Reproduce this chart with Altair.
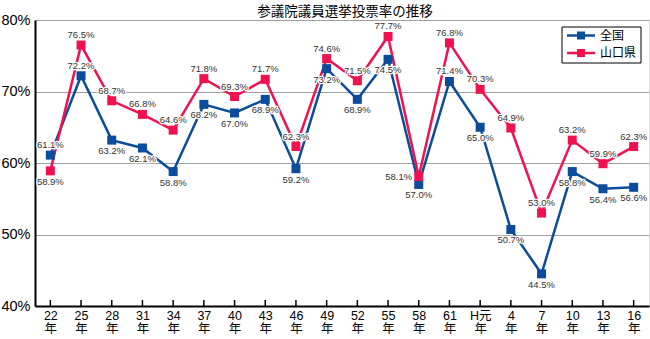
import altair as alt
import pandas as pd

years = ["22", "25", "28", "31", "34", "37", "40", "43", "46", "49",
         "52", "55", "58", "61", "H元", "4", "7", "10", "13", "16"]
national = [61.1, 72.2, 63.2, 62.1, 58.8, 68.2, 67.0, 68.9, 59.2, 73.2,
            68.9, 74.5, 57.0, 71.4, 65.0, 50.7, 44.5, 58.8, 56.4, 56.6]
yamaguchi = [58.9, 76.5, 68.7, 66.8, 64.6, 71.8, 69.3, 71.7, 62.3, 74.6,
             71.5, 77.7, 58.1, 76.8, 70.3, 64.9, 53.0, 63.2, 59.9, 62.3]
series_names = ["全国", "山口県"]
colors = ["#0b4c9d", "#f0124f"]
# label placement: a = above, b = below, l = left
national_place = ["a", "a", "b", "b", "b", "b", "b", "b", "b", "b",
                  "b", "b", "b", "a", "b", "b", "b", "b", "b", "b"]
yamaguchi_place = ["b", "a", "a", "a", "a", "a", "a", "a", "a", "a",
                   "a", "a", "l", "a", "a", "a", "a", "a", "a", "a"]

rows = []
for s, vals, places in [(series_names[0], national, national_place),
                        (series_names[1], yamaguchi, yamaguchi_place)]:
    for i, (yr, v, p) in enumerate(zip(years, vals, places)):
        rows.append({"year": yr, "idx": i, "series": s, "value": v,
                     "place": p, "label": f"{v:.1f}%"})
df = pd.DataFrame(rows)
ticks_df = pd.DataFrame({"year": years})

JP = "Noto Sans CJK JP"
NUM = "Liberation Sans, Arial, sans-serif"

xscale = alt.Scale(type="point", padding=0.5)
xaxis = alt.Axis(title=None, labelAngle=0, ticks=False,
                 domainColor="black", domainWidth=2,
                 labelExpr="[datum.label, '年']",
                 labelFont="Liberation Sans, Noto Sans CJK JP, sans-serif",
                 labelFontSize=12.5, labelLineHeight=13.8,
                 labelColor="black", labelPadding=3, grid=False)
xenc = alt.X("year:N", sort=years, scale=xscale, axis=xaxis)
yenc = alt.Y("value:Q", scale=alt.Scale(domain=[40, 80], nice=False, zero=False),
             axis=alt.Axis(title=None, values=[40, 50, 60, 70, 80],
                           labelExpr="datum.value + '%'", ticks=False,
                           grid=True, gridColor="#a0a0a0", gridWidth=1,
                           domainColor="black", domainWidth=2,
                           labelFont=NUM, labelFontSize=14.5, labelColor="black",
                           labelPadding=5))
cscale = alt.Scale(domain=series_names, range=colors)

base = alt.Chart(df)

lines = base.mark_line(strokeWidth=2.5).encode(
    x=xenc, y=yenc,
    color=alt.Color("series:N", scale=cscale, legend=None),
    order=alt.Order("idx:Q"),
)

squares = base.mark_square(size=81, strokeWidth=1, opacity=1).encode(
    x=xenc, y=yenc,
    color=alt.Color("series:N", scale=cscale, legend=None),
)

offsets = {"a": (0, -10), "b": (0, 11), "l": (-20, 0)}
text_layers = []
for key, (dx, dy) in offsets.items():
    sub = base.transform_filter(alt.datum.place == key)
    halo = sub.mark_text(font="Liberation Sans", fontSize=9.5, dx=dx, dy=dy,
                         stroke="white", strokeWidth=2.5, strokeJoin="round",
                         fill="white").encode(x=xenc, y=yenc, text="label:N")
    txt = sub.mark_text(font="Liberation Sans", fontSize=9.5, dx=dx, dy=dy,
                        color="#333333").encode(x=xenc, y=yenc, text="label:N")
    text_layers += [halo, txt]

tick_marks = alt.Chart(ticks_df).mark_rule(color="black", strokeWidth=1.5).encode(
    x=xenc, y=alt.value(280), y2=alt.value(286),
)

# legend box (drawn by hand, inside the top-right corner of the plot)
legend_layers = [
    alt.Chart(pd.DataFrame({"series": series_names[:1]})).mark_rect(
        fill="white", stroke="black", strokeWidth=1).encode(
        x=alt.value(527), x2=alt.value(606), y=alt.value(7), y2=alt.value(43))
]
for i, (name, col) in enumerate(zip(series_names, colors)):
    ly = 15.5 + 17.5 * i
    src = alt.Chart(pd.DataFrame({"series": [name]}))
    legend_layers.append(src.mark_rule(color=col, strokeWidth=2.5).encode(
        x=alt.value(532), x2=alt.value(560), y=alt.value(ly)))
    legend_layers.append(src.mark_square(color=col, size=64, opacity=1).encode(
        x=alt.value(546), y=alt.value(ly)))
    legend_layers.append(src.mark_text(font=JP, fontSize=12, color="black",
                                       align="left", baseline="middle").encode(
        x=alt.value(565), y=alt.value(ly), text="series:N"))

chart = alt.layer(lines, squares, *text_layers, tick_marks, *legend_layers).properties(
    width=614, height=286,
    padding={"left": 35, "top": 20, "right": 1, "bottom": 33},
    autosize=alt.AutoSizeParams(type="none"),
    title=alt.Title("参議院議員選挙投票率の推移", font=JP, fontSize=13.5,
                    fontWeight="normal", color="black", anchor="middle",
                    offset=-6, dx=3),
).configure_view(stroke="#a0a0a0").configure(background="white")

chart.save("out.html", embed_options={"renderer": "svg", "actions": False})
